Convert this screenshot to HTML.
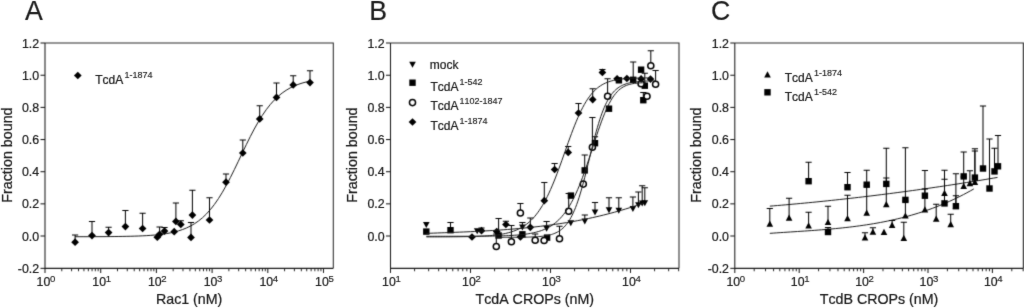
<!DOCTYPE html>
<html lang="en">
<head>
<meta charset="utf-8">
<title>Fraction bound binding curves</title>
<style>
html,body{margin:0;padding:0;background:#fff;}
body{width:1024px;height:308px;overflow:hidden;font-family:"Liberation Sans",sans-serif;}
svg{display:block;will-change:transform;filter:grayscale(1);}
svg text{font-family:"Liberation Sans",sans-serif;fill:#1c1c1c;stroke:#1c1c1c;stroke-width:0.24px;font-kerning:none;}
svg text tspan{stroke-width:0.16px;}
svg text.big{stroke-width:0.2px;}
</style>
</head>
<body>
<svg width="1024" height="308" viewBox="0 0 1024 308">
<defs><filter id="soft" x="0" y="0" width="100%" height="100%" filterUnits="userSpaceOnUse" color-interpolation-filters="sRGB"><feConvolveMatrix order="3" kernelMatrix="0.02 0.09 0.02 0.09 0.56 0.09 0.02 0.09 0.02" divisor="1" edgeMode="duplicate" preserveAlpha="false"/></filter><filter id="soft2" x="0" y="0" width="100%" height="100%" filterUnits="userSpaceOnUse" color-interpolation-filters="sRGB"><feConvolveMatrix order="3" kernelMatrix="0.01 0.06 0.01 0.06 0.72 0.06 0.01 0.06 0.01" divisor="1" edgeMode="duplicate" preserveAlpha="false"/></filter></defs>
<g filter="url(#soft)">
<rect width="1024" height="308" fill="#fff"/>
<g id="A">
<path d="M45 43H333.3V268.35" fill="none" stroke="#2a2a2a" stroke-width="1.05"/>
<path d="M45 43V268.35H333.3" fill="none" stroke="#1a1a1a" stroke-width="1.05"/>
<path d="M40.5 43H45" stroke="#1a1a1a" stroke-width="1.05"/>

<path d="M40.5 75.25H45" stroke="#1a1a1a" stroke-width="1.05"/>

<path d="M40.5 107.4H45" stroke="#1a1a1a" stroke-width="1.05"/>

<path d="M40.5 139.55H45" stroke="#1a1a1a" stroke-width="1.05"/>

<path d="M40.5 171.7H45" stroke="#1a1a1a" stroke-width="1.05"/>

<path d="M40.5 203.85H45" stroke="#1a1a1a" stroke-width="1.05"/>

<path d="M40.5 236H45" stroke="#1a1a1a" stroke-width="1.05"/>

<path d="M40.5 268.35H45" stroke="#1a1a1a" stroke-width="1.05"/>

<path d="M45 268.35V272.95" stroke="#1a1a1a" stroke-width="1.05"/>

<path d="M61.77 268.35V271.25" stroke="#1a1a1a" stroke-width="0.95"/>
<path d="M71.58 268.35V271.25" stroke="#1a1a1a" stroke-width="0.95"/>
<path d="M78.53 268.35V271.25" stroke="#1a1a1a" stroke-width="0.95"/>
<path d="M83.93 268.35V271.25" stroke="#1a1a1a" stroke-width="0.95"/>
<path d="M88.34 268.35V271.25" stroke="#1a1a1a" stroke-width="0.95"/>
<path d="M92.07 268.35V271.25" stroke="#1a1a1a" stroke-width="0.95"/>
<path d="M95.3 268.35V271.25" stroke="#1a1a1a" stroke-width="0.95"/>
<path d="M98.15 268.35V271.25" stroke="#1a1a1a" stroke-width="0.95"/>
<path d="M100.7 268.35V272.95" stroke="#1a1a1a" stroke-width="1.05"/>

<path d="M117.47 268.35V271.25" stroke="#1a1a1a" stroke-width="0.95"/>
<path d="M127.28 268.35V271.25" stroke="#1a1a1a" stroke-width="0.95"/>
<path d="M134.23 268.35V271.25" stroke="#1a1a1a" stroke-width="0.95"/>
<path d="M139.63 268.35V271.25" stroke="#1a1a1a" stroke-width="0.95"/>
<path d="M144.04 268.35V271.25" stroke="#1a1a1a" stroke-width="0.95"/>
<path d="M147.77 268.35V271.25" stroke="#1a1a1a" stroke-width="0.95"/>
<path d="M151 268.35V271.25" stroke="#1a1a1a" stroke-width="0.95"/>
<path d="M153.85 268.35V271.25" stroke="#1a1a1a" stroke-width="0.95"/>
<path d="M156.4 268.35V272.95" stroke="#1a1a1a" stroke-width="1.05"/>

<path d="M173.17 268.35V271.25" stroke="#1a1a1a" stroke-width="0.95"/>
<path d="M182.98 268.35V271.25" stroke="#1a1a1a" stroke-width="0.95"/>
<path d="M189.93 268.35V271.25" stroke="#1a1a1a" stroke-width="0.95"/>
<path d="M195.33 268.35V271.25" stroke="#1a1a1a" stroke-width="0.95"/>
<path d="M199.74 268.35V271.25" stroke="#1a1a1a" stroke-width="0.95"/>
<path d="M203.47 268.35V271.25" stroke="#1a1a1a" stroke-width="0.95"/>
<path d="M206.7 268.35V271.25" stroke="#1a1a1a" stroke-width="0.95"/>
<path d="M209.55 268.35V271.25" stroke="#1a1a1a" stroke-width="0.95"/>
<path d="M212.1 268.35V272.95" stroke="#1a1a1a" stroke-width="1.05"/>

<path d="M228.87 268.35V271.25" stroke="#1a1a1a" stroke-width="0.95"/>
<path d="M238.68 268.35V271.25" stroke="#1a1a1a" stroke-width="0.95"/>
<path d="M245.63 268.35V271.25" stroke="#1a1a1a" stroke-width="0.95"/>
<path d="M251.03 268.35V271.25" stroke="#1a1a1a" stroke-width="0.95"/>
<path d="M255.44 268.35V271.25" stroke="#1a1a1a" stroke-width="0.95"/>
<path d="M259.17 268.35V271.25" stroke="#1a1a1a" stroke-width="0.95"/>
<path d="M262.4 268.35V271.25" stroke="#1a1a1a" stroke-width="0.95"/>
<path d="M265.25 268.35V271.25" stroke="#1a1a1a" stroke-width="0.95"/>
<path d="M267.8 268.35V272.95" stroke="#1a1a1a" stroke-width="1.05"/>

<path d="M284.57 268.35V271.25" stroke="#1a1a1a" stroke-width="0.95"/>
<path d="M294.38 268.35V271.25" stroke="#1a1a1a" stroke-width="0.95"/>
<path d="M301.33 268.35V271.25" stroke="#1a1a1a" stroke-width="0.95"/>
<path d="M306.73 268.35V271.25" stroke="#1a1a1a" stroke-width="0.95"/>
<path d="M311.14 268.35V271.25" stroke="#1a1a1a" stroke-width="0.95"/>
<path d="M314.87 268.35V271.25" stroke="#1a1a1a" stroke-width="0.95"/>
<path d="M318.1 268.35V271.25" stroke="#1a1a1a" stroke-width="0.95"/>
<path d="M320.95 268.35V271.25" stroke="#1a1a1a" stroke-width="0.95"/>
<path d="M323.5 268.35V272.95" stroke="#1a1a1a" stroke-width="1.05"/>




<path d="M75.1 236.72L79.08 236.71L83.06 236.7L87.04 236.69L91.03 236.68L95.01 236.67L98.99 236.65L102.97 236.63L106.95 236.6L110.93 236.57L114.91 236.53L118.89 236.48L122.88 236.42L126.86 236.34L130.84 236.25L134.82 236.14L138.8 236L142.78 235.82L146.76 235.61L150.75 235.35L154.73 235.02L158.71 234.63L162.69 234.14L166.67 233.55L170.65 232.82L174.63 231.93L178.62 230.84L182.6 229.53L186.58 227.93L190.56 226.01L194.54 223.71L198.52 220.96L202.5 217.72L206.48 213.9L210.47 209.48L214.45 204.4L218.43 198.64L222.41 192.22L226.39 185.17L230.37 177.59L234.35 169.58L238.34 161.3L242.32 152.93L246.3 144.64L250.28 136.62L254.26 129.02L258.24 121.95L262.22 115.5L266.21 109.72L270.19 104.62L274.17 100.16L278.15 96.33L282.13 93.06L286.11 90.3L290.09 87.98L294.07 86.05L298.06 84.44L302.04 83.12L306.02 82.02L310 81.13" fill="none" stroke="#1a1a1a" stroke-width="1.0" stroke-linejoin="round"/>
<g stroke="#000" stroke-width="1.02" fill="none">
<path d="M75.1 242.2V235M72 235H78.2"/>
<path d="M92 235.6V221.4M88.9 221.4H95.1"/>
<path d="M108.6 232.6V227.2M105.5 227.2H111.7"/>
<path d="M125.4 226.6V210.5M122.3 210.5H128.5"/>
<path d="M142.6 228.5V213.3M139.5 213.3H145.7"/>

<path d="M159.6 234.3V227M156.5 227H162.7"/>
<path d="M164.5 231.1V227.5M161.4 227.5H167.6"/>

<path d="M175.9 221.4V203M172.8 203H179"/>
<path d="M180.8 224.4V220.8M177.7 220.8H183.9"/>
<path d="M192.4 215.1V190.3M189.3 190.3H195.5"/>
<path d="M191 237.4V222.6M187.9 222.6H194.1"/>
<path d="M209.5 220V197.8M206.4 197.8H212.6"/>
<path d="M226 182.2V174M222.9 174H229.1"/>
<path d="M242.8 153V140M239.7 140H245.9"/>
<path d="M259.7 118.9V105.8M256.6 105.8H262.8"/>
<path d="M276.5 97.4V83M273.4 83H279.6"/>
<path d="M293.2 84.9V75.7M290.1 75.7H296.3"/>
<path d="M310 82.6V70.7M306.9 70.7H313.1"/>
</g><g fill="#000">
<path d="M75.1 238.35L78.95 242.2L75.1 246.05L71.25 242.2Z"/>
<path d="M92 231.75L95.85 235.6L92 239.45L88.15 235.6Z"/>
<path d="M108.6 228.75L112.45 232.6L108.6 236.45L104.75 232.6Z"/>
<path d="M125.4 222.75L129.25 226.6L125.4 230.45L121.55 226.6Z"/>
<path d="M142.6 224.65L146.45 228.5L142.6 232.35L138.75 228.5Z"/>
<path d="M157.3 233.35L161.15 237.2L157.3 241.05L153.45 237.2Z"/>
<path d="M159.6 230.45L163.45 234.3L159.6 238.15L155.75 234.3Z"/>
<path d="M164.5 227.25L168.35 231.1L164.5 234.95L160.65 231.1Z"/>
<path d="M174.2 227.85L178.05 231.7L174.2 235.55L170.35 231.7Z"/>
<path d="M175.9 217.55L179.75 221.4L175.9 225.25L172.05 221.4Z"/>
<path d="M180.8 220.55L184.65 224.4L180.8 228.25L176.95 224.4Z"/>
<path d="M192.4 211.25L196.25 215.1L192.4 218.95L188.55 215.1Z"/>
<path d="M191 233.55L194.85 237.4L191 241.25L187.15 237.4Z"/>
<path d="M209.5 216.15L213.35 220L209.5 223.85L205.65 220Z"/>
<path d="M226 178.35L229.85 182.2L226 186.05L222.15 182.2Z"/>
<path d="M242.8 149.15L246.65 153L242.8 156.85L238.95 153Z"/>
<path d="M259.7 115.05L263.55 118.9L259.7 122.75L255.85 118.9Z"/>
<path d="M276.5 93.55L280.35 97.4L276.5 101.25L272.65 97.4Z"/>
<path d="M293.2 81.05L297.05 84.9L293.2 88.75L289.35 84.9Z"/>
<path d="M310 78.75L313.85 82.6L310 86.45L306.15 82.6Z"/>
<path d="M77.8 71.65L81.65 75.5L77.8 79.35L73.95 75.5Z"/>
</g>

</g>
<g id="B">
<path d="M390.5 43H679V268.35" fill="none" stroke="#2a2a2a" stroke-width="1.05"/>
<path d="M390.5 43V268.35H679" fill="none" stroke="#1a1a1a" stroke-width="1.05"/>
<path d="M386 43H390.5" stroke="#1a1a1a" stroke-width="1.05"/>

<path d="M386 75.25H390.5" stroke="#1a1a1a" stroke-width="1.05"/>

<path d="M386 107.4H390.5" stroke="#1a1a1a" stroke-width="1.05"/>

<path d="M386 139.55H390.5" stroke="#1a1a1a" stroke-width="1.05"/>

<path d="M386 171.7H390.5" stroke="#1a1a1a" stroke-width="1.05"/>

<path d="M386 203.85H390.5" stroke="#1a1a1a" stroke-width="1.05"/>

<path d="M386 236H390.5" stroke="#1a1a1a" stroke-width="1.05"/>

<path d="M390.5 268.35V272.95" stroke="#1a1a1a" stroke-width="1.05"/>

<path d="M414.58 268.35V271.25" stroke="#1a1a1a" stroke-width="0.95"/>
<path d="M428.67 268.35V271.25" stroke="#1a1a1a" stroke-width="0.95"/>
<path d="M438.66 268.35V271.25" stroke="#1a1a1a" stroke-width="0.95"/>
<path d="M446.42 268.35V271.25" stroke="#1a1a1a" stroke-width="0.95"/>
<path d="M452.75 268.35V271.25" stroke="#1a1a1a" stroke-width="0.95"/>
<path d="M458.11 268.35V271.25" stroke="#1a1a1a" stroke-width="0.95"/>
<path d="M462.75 268.35V271.25" stroke="#1a1a1a" stroke-width="0.95"/>
<path d="M466.84 268.35V271.25" stroke="#1a1a1a" stroke-width="0.95"/>
<path d="M470.5 268.35V272.95" stroke="#1a1a1a" stroke-width="1.05"/>

<path d="M494.58 268.35V271.25" stroke="#1a1a1a" stroke-width="0.95"/>
<path d="M508.67 268.35V271.25" stroke="#1a1a1a" stroke-width="0.95"/>
<path d="M518.66 268.35V271.25" stroke="#1a1a1a" stroke-width="0.95"/>
<path d="M526.42 268.35V271.25" stroke="#1a1a1a" stroke-width="0.95"/>
<path d="M532.75 268.35V271.25" stroke="#1a1a1a" stroke-width="0.95"/>
<path d="M538.11 268.35V271.25" stroke="#1a1a1a" stroke-width="0.95"/>
<path d="M542.75 268.35V271.25" stroke="#1a1a1a" stroke-width="0.95"/>
<path d="M546.84 268.35V271.25" stroke="#1a1a1a" stroke-width="0.95"/>
<path d="M550.5 268.35V272.95" stroke="#1a1a1a" stroke-width="1.05"/>

<path d="M574.58 268.35V271.25" stroke="#1a1a1a" stroke-width="0.95"/>
<path d="M588.67 268.35V271.25" stroke="#1a1a1a" stroke-width="0.95"/>
<path d="M598.66 268.35V271.25" stroke="#1a1a1a" stroke-width="0.95"/>
<path d="M606.42 268.35V271.25" stroke="#1a1a1a" stroke-width="0.95"/>
<path d="M612.75 268.35V271.25" stroke="#1a1a1a" stroke-width="0.95"/>
<path d="M618.11 268.35V271.25" stroke="#1a1a1a" stroke-width="0.95"/>
<path d="M622.75 268.35V271.25" stroke="#1a1a1a" stroke-width="0.95"/>
<path d="M626.84 268.35V271.25" stroke="#1a1a1a" stroke-width="0.95"/>
<path d="M630.5 268.35V272.95" stroke="#1a1a1a" stroke-width="1.05"/>

<path d="M654.58 268.35V271.25" stroke="#1a1a1a" stroke-width="0.95"/>
<path d="M668.67 268.35V271.25" stroke="#1a1a1a" stroke-width="0.95"/>
<path d="M678.66 268.35V271.25" stroke="#1a1a1a" stroke-width="0.95"/>



<g stroke="#000" stroke-width="1.02" fill="none">


<path d="M522.4 227.6V222.6M519.3 222.6H525.5"/>
<path d="M546.6 228.7V221.4M543.5 221.4H549.7"/>

<path d="M584.8 221.6V215M581.7 215H587.9"/>
<path d="M595 212.4V202.6M591.9 202.6H598.1"/>
<path d="M609 210.2V197.8M605.9 197.8H612.1"/>
<path d="M618.8 210.8V197.8M615.7 197.8H621.9"/>
<path d="M632.9 208.9V197M629.8 197H636"/>
<path d="M638.4 205.2V191.9M635.3 191.9H641.5"/>
<path d="M642.2 203.6V185.8M639.1 185.8H645.3"/>
<path d="M644.8 203.2V187.8M641.7 187.8H647.9"/>

<path d="M450.5 230.2V222.5M447.4 222.5H453.6"/>
<path d="M498.6 235.5V218.4M495.5 218.4H501.7"/>



<path d="M584.7 170.4V155M581.6 155H587.8"/>
<path d="M595 143.2V136.7M591.9 136.7H598.1"/>


<path d="M633.2 79.8V62M630.1 62H636.3"/>

<path d="M644.8 85.7V73.2M641.7 73.2H647.9"/>
<path d="M643.3 100.2V92.4M640.2 92.4H646.4"/>
<path d="M496.3 246.5V234M493.2 234H499.4"/>
<path d="M511.4 241.8V225.5M508.3 225.5H514.5"/>
<path d="M520.4 213V203.5M517.3 203.5H523.5"/>
<path d="M535.2 240.3V234M532.1 234H538.3"/>

<path d="M559.5 238.7V226.3M556.4 226.3H562.6"/>
<path d="M568.7 211.3V193.5M565.6 193.5H571.8"/>

<path d="M592.4 147.3V117.6M589.3 117.6H595.5"/>
<path d="M607.6 96.2V78.8M604.5 78.8H610.7"/>

<path d="M650.8 65.7V50.8M647.7 50.8H653.9"/>
<path d="M655.6 84.3V70.6M652.5 70.6H658.7"/>


<path d="M481.5 230.7V228M478.4 228H484.6"/>

<path d="M505.9 224.5V221.3M502.8 221.3H509"/>

<path d="M530.3 227.3V218M527.2 218H533.4"/>
<path d="M544.3 200.7V182.5M541.2 182.5H547.4"/>
<path d="M554.6 169.5V163.6M551.5 163.6H557.7"/>
<path d="M568.2 152.4V146.6M565.1 146.6H571.3"/>
<path d="M578.5 113V103.6M575.4 103.6H581.6"/>
<path d="M592.7 99.6V88.7M589.6 88.7H595.8"/>
<path d="M602.4 72.4V69.6M599.3 69.6H605.5"/>




</g><g fill="#000">
<path d="M423 222L429.6 222L426.3 228Z"/>
<path d="M473.9 228.3L480.5 228.3L477.2 234.3Z"/>
<path d="M519.1 224.6L525.7 224.6L522.4 230.6Z"/>
<path d="M543.3 225.7L549.9 225.7L546.6 231.7Z"/>
<path d="M567.5 220.3L574.1 220.3L570.8 226.3Z"/>
<path d="M581.5 218.6L588.1 218.6L584.8 224.6Z"/>
<path d="M591.7 209.4L598.3 209.4L595 215.4Z"/>
<path d="M605.7 207.2L612.3 207.2L609 213.2Z"/>
<path d="M615.5 207.8L622.1 207.8L618.8 213.8Z"/>
<path d="M629.6 205.9L636.2 205.9L632.9 211.9Z"/>
<path d="M635.1 202.2L641.7 202.2L638.4 208.2Z"/>
<path d="M638.9 200.6L645.5 200.6L642.2 206.6Z"/>
<path d="M641.5 200.2L648.1 200.2L644.8 206.2Z"/>
<rect x="423.1" y="228.4" width="6.4" height="6.4"/>
<rect x="447.3" y="227" width="6.4" height="6.4"/>
<rect x="495.4" y="232.3" width="6.4" height="6.4"/>
<rect x="519.2" y="231.1" width="6.4" height="6.4"/>
<rect x="543.9" y="234.4" width="6.4" height="6.4"/>
<rect x="567.7" y="192.4" width="6.4" height="6.4"/>
<rect x="581.5" y="167.2" width="6.4" height="6.4"/>
<rect x="591.8" y="140" width="6.4" height="6.4"/>
<rect x="605.8" y="105.5" width="6.4" height="6.4"/>
<rect x="615.7" y="77.1" width="6.4" height="6.4"/>
<rect x="630" y="76.6" width="6.4" height="6.4"/>
<rect x="637.9" y="66.5" width="6.4" height="6.4"/>
<rect x="641.6" y="82.5" width="6.4" height="6.4"/>
<rect x="640.1" y="97" width="6.4" height="6.4"/>
<circle cx="496.3" cy="246.5" r="3.05" fill="#fff" stroke="#000" stroke-width="1.5"/>
<circle cx="511.4" cy="241.8" r="3.05" fill="#fff" stroke="#000" stroke-width="1.5"/>
<circle cx="520.4" cy="213" r="3.05" fill="#fff" stroke="#000" stroke-width="1.5"/>
<circle cx="535.2" cy="240.3" r="3.05" fill="#fff" stroke="#000" stroke-width="1.5"/>
<circle cx="544.1" cy="240.5" r="3.05" fill="#fff" stroke="#000" stroke-width="1.5"/>
<circle cx="559.5" cy="238.7" r="3.05" fill="#fff" stroke="#000" stroke-width="1.5"/>
<circle cx="568.7" cy="211.3" r="3.05" fill="#fff" stroke="#000" stroke-width="1.5"/>
<circle cx="583.3" cy="184.1" r="3.05" fill="#fff" stroke="#000" stroke-width="1.5"/>
<circle cx="592.4" cy="147.3" r="3.05" fill="#fff" stroke="#000" stroke-width="1.5"/>
<circle cx="607.6" cy="96.2" r="3.05" fill="#fff" stroke="#000" stroke-width="1.5"/>
<circle cx="641.1" cy="83.8" r="3.05" fill="#fff" stroke="#000" stroke-width="1.5"/>
<circle cx="650.8" cy="65.7" r="3.05" fill="#fff" stroke="#000" stroke-width="1.5"/>
<circle cx="655.6" cy="84.3" r="3.05" fill="#fff" stroke="#000" stroke-width="1.5"/>
<circle cx="647" cy="96.2" r="3.05" fill="#fff" stroke="#000" stroke-width="1.5"/>
<path d="M472 233.15L475.85 237L472 240.85L468.15 237Z"/>
<path d="M481.5 226.85L485.35 230.7L481.5 234.55L477.65 230.7Z"/>
<path d="M496.7 227.75L500.55 231.6L496.7 235.45L492.85 231.6Z"/>
<path d="M505.9 220.65L509.75 224.5L505.9 228.35L502.05 224.5Z"/>
<path d="M520.4 233.15L524.25 237L520.4 240.85L516.55 237Z"/>
<path d="M530.3 223.45L534.15 227.3L530.3 231.15L526.45 227.3Z"/>
<path d="M544.3 196.85L548.15 200.7L544.3 204.55L540.45 200.7Z"/>
<path d="M554.6 165.65L558.45 169.5L554.6 173.35L550.75 169.5Z"/>
<path d="M568.2 148.55L572.05 152.4L568.2 156.25L564.35 152.4Z"/>
<path d="M578.5 109.15L582.35 113L578.5 116.85L574.65 113Z"/>
<path d="M592.7 95.75L596.55 99.6L592.7 103.45L588.85 99.6Z"/>
<path d="M602.4 68.55L606.25 72.4L602.4 76.25L598.55 72.4Z"/>
<path d="M617.1 74.95L620.95 78.8L617.1 82.65L613.25 78.8Z"/>
<path d="M626.9 74.65L630.75 78.5L626.9 82.35L623.05 78.5Z"/>
<path d="M641.1 75.05L644.95 78.9L641.1 82.75L637.25 78.9Z"/>
<path d="M650.5 75.25L654.35 79.1L650.5 82.95L646.65 79.1Z"/>
</g>
<path d="M426.4 233.37L430.09 233.24L433.78 233.11L437.46 232.98L441.15 232.84L444.84 232.71L448.53 232.57L452.22 232.43L455.91 232.29L459.59 232.14L463.28 231.99L466.97 231.83L470.66 231.66L474.35 231.49L478.03 231.31L481.72 231.12L485.41 230.91L489.1 230.7L492.79 230.48L496.47 230.25L500.16 230L503.85 229.74L507.54 229.47L511.23 229.18L514.92 228.88L518.6 228.56L522.29 228.22L525.98 227.86L529.67 227.49L533.36 227.1L537.04 226.69L540.73 226.26L544.42 225.8L548.11 225.33L551.8 224.83L555.48 224.31L559.17 223.76L562.86 223.19L566.55 222.6L570.24 221.97L573.93 221.33L577.61 220.65L581.3 219.94L584.99 219.21L588.68 218.44L592.37 217.65L596.05 216.82L599.74 215.97L603.43 215.07L607.12 214.15L610.81 213.19L614.49 212.2L618.18 211.17L621.87 210.1L625.56 209L629.25 207.86L632.94 206.68L636.62 205.46L640.31 204.2L644 202.9" fill="none" stroke="#1a1a1a" stroke-width="1.0" stroke-linejoin="round"/>
<path d="M426.4 236.89L428.01 236.89L429.62 236.88L431.24 236.88L432.85 236.88L434.46 236.87L436.07 236.87L437.69 236.87L439.3 236.86L440.91 236.85L442.52 236.85L444.13 236.84L445.75 236.83L447.36 236.83L448.97 236.82L450.58 236.81L452.2 236.8L453.81 236.78L455.42 236.77L457.03 236.75L458.64 236.74L460.26 236.72L461.87 236.7L463.48 236.67L465.09 236.65L466.71 236.62L468.32 236.59L469.93 236.55L471.54 236.51L473.15 236.47L474.77 236.42L476.38 236.37L477.99 236.31L479.6 236.24L481.22 236.17L482.83 236.09L484.44 236L486.05 235.9L487.66 235.79L489.28 235.67L490.89 235.54L492.5 235.39L494.11 235.23L495.73 235.05L497.34 234.84L498.95 234.62L500.56 234.38L502.17 234.1L503.79 233.8L505.4 233.47L507.01 233.1L508.62 232.7L510.24 232.25L511.85 231.75L513.46 231.21L515.07 230.61L516.68 229.95L518.3 229.22L519.91 228.42L521.52 227.54L523.13 226.57L524.75 225.51L526.36 224.36L527.97 223.09L529.58 221.7L531.19 220.19L532.81 218.55L534.42 216.77L536.03 214.83L537.64 212.73L539.26 210.47L540.87 208.04L542.48 205.43L544.09 202.63L545.71 199.65L547.32 196.49L548.93 193.13L550.54 189.59L552.15 185.88L553.77 181.99L555.38 177.96L556.99 173.78L558.6 169.47L560.22 165.07L561.83 160.58L563.44 156.05L565.05 151.49L566.66 146.93L568.28 142.41L569.89 137.94L571.5 133.57L573.11 129.31L574.73 125.2L576.34 121.24L577.95 117.46L579.56 113.88L581.17 110.5L582.79 107.34L584.4 104.39L586.01 101.66L587.62 99.14L589.24 96.83L590.85 94.72L592.46 92.81L594.07 91.07L595.68 89.52L597.3 88.12L598.91 86.87L600.52 85.75L602.13 84.76L603.75 83.89L605.36 83.11L606.97 82.43L608.58 81.83L610.19 81.3L611.81 80.84L613.42 80.44L615.03 80.08L616.64 79.78L618.26 79.51L619.87 79.28L621.48 79.07L623.09 78.9L624.7 78.75L626.32 78.62L627.93 78.5L629.54 78.4L631.15 78.32L632.77 78.24L634.38 78.18L635.99 78.13L637.6 78.08L639.21 78.04L640.83 78L642.44 77.97L644.05 77.95L645.66 77.92L647.28 77.9L648.89 77.89L650.5 77.87" fill="none" stroke="#1a1a1a" stroke-width="1.0" stroke-linejoin="round"/>
<path d="M426.4 236.3L427.98 236.3L429.55 236.3L431.13 236.3L432.71 236.3L434.28 236.29L435.86 236.29L437.43 236.29L439.01 236.29L440.59 236.29L442.16 236.29L443.74 236.29L445.32 236.29L446.89 236.29L448.47 236.29L450.04 236.28L451.62 236.28L453.2 236.28L454.77 236.28L456.35 236.28L457.93 236.27L459.5 236.27L461.08 236.27L462.65 236.26L464.23 236.26L465.81 236.25L467.38 236.25L468.96 236.24L470.54 236.24L472.11 236.23L473.69 236.22L475.26 236.21L476.84 236.2L478.42 236.19L479.99 236.18L481.57 236.17L483.15 236.16L484.72 236.14L486.3 236.13L487.87 236.11L489.45 236.09L491.03 236.06L492.6 236.04L494.18 236.01L495.76 235.98L497.33 235.95L498.91 235.91L500.48 235.87L502.06 235.82L503.64 235.77L505.21 235.72L506.79 235.65L508.37 235.59L509.94 235.51L511.52 235.43L513.09 235.33L514.67 235.23L516.25 235.12L517.82 235L519.4 234.86L520.98 234.71L522.55 234.54L524.13 234.36L525.7 234.15L527.28 233.93L528.86 233.68L530.43 233.41L532.01 233.11L533.59 232.78L535.16 232.41L536.74 232.01L538.31 231.56L539.89 231.08L541.47 230.54L543.04 229.95L544.62 229.3L546.2 228.58L547.77 227.8L549.35 226.94L550.92 225.99L552.5 224.96L554.08 223.83L555.65 222.59L557.23 221.24L558.81 219.77L560.38 218.17L561.96 216.42L563.53 214.53L565.11 212.48L566.69 210.26L568.26 207.87L569.84 205.3L571.42 202.53L572.99 199.57L574.57 196.41L576.14 193.05L577.72 189.49L579.3 185.72L580.87 181.77L582.45 177.63L584.03 173.33L585.6 168.86L587.18 164.27L588.75 159.56L590.33 154.77L591.91 149.93L593.48 145.08L595.06 140.24L596.64 135.46L598.21 130.78L599.79 126.23L601.36 121.85L602.94 117.67L604.52 113.71L606.09 110L607.67 106.56L609.25 103.4L610.82 100.53L612.4 97.94L613.97 95.62L615.55 93.58L617.13 91.79L618.7 90.24L620.28 88.9L621.86 87.77L623.43 86.81L625.01 86L626.58 85.33L628.16 84.78L629.74 84.33L631.31 83.96L632.89 83.66L634.47 83.42L636.04 83.23L637.62 83.08L639.19 82.96L640.77 82.86L642.35 82.79L643.92 82.73L645.5 82.69" fill="none" stroke="#1a1a1a" stroke-width="1.0" stroke-linejoin="round"/>
<path d="M496.3 237.35L497.45 237.34L498.6 237.34L499.75 237.34L500.9 237.34L502.04 237.34L503.19 237.34L504.34 237.33L505.49 237.33L506.64 237.33L507.79 237.32L508.94 237.32L510.09 237.32L511.24 237.31L512.38 237.31L513.53 237.3L514.68 237.29L515.83 237.29L516.98 237.28L518.13 237.27L519.28 237.26L520.43 237.24L521.58 237.23L522.73 237.21L523.87 237.19L525.02 237.17L526.17 237.15L527.32 237.13L528.47 237.1L529.62 237.06L530.77 237.03L531.92 236.98L533.07 236.94L534.21 236.88L535.36 236.82L536.51 236.75L537.66 236.68L538.81 236.59L539.96 236.49L541.11 236.38L542.26 236.26L543.41 236.12L544.55 235.96L545.7 235.78L546.85 235.58L548 235.36L549.15 235.1L550.3 234.82L551.45 234.5L552.6 234.14L553.75 233.73L554.89 233.28L556.04 232.77L557.19 232.2L558.34 231.56L559.49 230.85L560.64 230.05L561.79 229.16L562.94 228.16L564.09 227.06L565.24 225.83L566.38 224.47L567.53 222.96L568.68 221.3L569.83 219.47L570.98 217.46L572.13 215.26L573.28 212.86L574.43 210.26L575.58 207.44L576.72 204.4L577.87 201.14L579.02 197.66L580.17 193.96L581.32 190.06L582.47 185.97L583.62 181.71L584.77 177.29L585.92 172.75L587.06 168.11L588.21 163.41L589.36 158.67L590.51 153.93L591.66 149.24L592.81 144.61L593.96 140.08L595.11 135.69L596.26 131.45L597.41 127.38L598.55 123.51L599.7 119.85L600.85 116.4L602 113.17L603.15 110.16L604.3 107.37L605.45 104.79L606.6 102.42L607.75 100.25L608.89 98.27L610.04 96.46L611.19 94.82L612.34 93.34L613.49 92L614.64 90.79L615.79 89.7L616.94 88.72L618.09 87.84L619.23 87.06L620.38 86.35L621.53 85.73L622.68 85.16L623.83 84.66L624.98 84.22L626.13 83.82L627.28 83.46L628.43 83.15L629.57 82.87L630.72 82.62L631.87 82.4L633.02 82.2L634.17 82.03L635.32 81.87L636.47 81.73L637.62 81.61L638.77 81.5L639.92 81.41L641.06 81.32L642.21 81.25L643.36 81.18L644.51 81.12L645.66 81.07L646.81 81.02L647.96 80.98L649.11 80.94L650.26 80.91L651.4 80.88L652.55 80.85L653.7 80.83L654.85 80.81L656 80.79" fill="none" stroke="#1a1a1a" stroke-width="1.0" stroke-linejoin="round"/>
<g fill="#000">
<path d="M409.2 61.7L415.8 61.7L412.5 67.7Z"/>
<rect x="409.3" y="79.5" width="6.4" height="6.4"/>
<circle cx="412.5" cy="102.6" r="3.05" fill="#fff" stroke="#000" stroke-width="1.5"/>
<path d="M412.5 118.15L416.35 122L412.5 125.85L408.65 122Z"/>
</g>




</g>
<g id="C">
<path d="M734.8 43H1023.3V268.35" fill="none" stroke="#2a2a2a" stroke-width="1.05"/>
<path d="M734.8 43V268.35H1023.3" fill="none" stroke="#1a1a1a" stroke-width="1.05"/>
<path d="M730.3 43H734.8" stroke="#1a1a1a" stroke-width="1.05"/>

<path d="M730.3 75.25H734.8" stroke="#1a1a1a" stroke-width="1.05"/>

<path d="M730.3 107.4H734.8" stroke="#1a1a1a" stroke-width="1.05"/>

<path d="M730.3 139.55H734.8" stroke="#1a1a1a" stroke-width="1.05"/>

<path d="M730.3 171.7H734.8" stroke="#1a1a1a" stroke-width="1.05"/>

<path d="M730.3 203.85H734.8" stroke="#1a1a1a" stroke-width="1.05"/>

<path d="M730.3 236H734.8" stroke="#1a1a1a" stroke-width="1.05"/>

<path d="M730.3 268.35H734.8" stroke="#1a1a1a" stroke-width="1.05"/>

<path d="M734.8 268.35V272.95" stroke="#1a1a1a" stroke-width="1.05"/>

<path d="M754.19 268.35V271.25" stroke="#1a1a1a" stroke-width="0.95"/>
<path d="M765.53 268.35V271.25" stroke="#1a1a1a" stroke-width="0.95"/>
<path d="M773.57 268.35V271.25" stroke="#1a1a1a" stroke-width="0.95"/>
<path d="M779.81 268.35V271.25" stroke="#1a1a1a" stroke-width="0.95"/>
<path d="M784.91 268.35V271.25" stroke="#1a1a1a" stroke-width="0.95"/>
<path d="M789.22 268.35V271.25" stroke="#1a1a1a" stroke-width="0.95"/>
<path d="M792.96 268.35V271.25" stroke="#1a1a1a" stroke-width="0.95"/>
<path d="M796.25 268.35V271.25" stroke="#1a1a1a" stroke-width="0.95"/>
<path d="M799.2 268.35V272.95" stroke="#1a1a1a" stroke-width="1.05"/>

<path d="M818.59 268.35V271.25" stroke="#1a1a1a" stroke-width="0.95"/>
<path d="M829.93 268.35V271.25" stroke="#1a1a1a" stroke-width="0.95"/>
<path d="M837.97 268.35V271.25" stroke="#1a1a1a" stroke-width="0.95"/>
<path d="M844.21 268.35V271.25" stroke="#1a1a1a" stroke-width="0.95"/>
<path d="M849.31 268.35V271.25" stroke="#1a1a1a" stroke-width="0.95"/>
<path d="M853.62 268.35V271.25" stroke="#1a1a1a" stroke-width="0.95"/>
<path d="M857.36 268.35V271.25" stroke="#1a1a1a" stroke-width="0.95"/>
<path d="M860.65 268.35V271.25" stroke="#1a1a1a" stroke-width="0.95"/>
<path d="M863.6 268.35V272.95" stroke="#1a1a1a" stroke-width="1.05"/>

<path d="M882.99 268.35V271.25" stroke="#1a1a1a" stroke-width="0.95"/>
<path d="M894.33 268.35V271.25" stroke="#1a1a1a" stroke-width="0.95"/>
<path d="M902.37 268.35V271.25" stroke="#1a1a1a" stroke-width="0.95"/>
<path d="M908.61 268.35V271.25" stroke="#1a1a1a" stroke-width="0.95"/>
<path d="M913.71 268.35V271.25" stroke="#1a1a1a" stroke-width="0.95"/>
<path d="M918.02 268.35V271.25" stroke="#1a1a1a" stroke-width="0.95"/>
<path d="M921.76 268.35V271.25" stroke="#1a1a1a" stroke-width="0.95"/>
<path d="M925.05 268.35V271.25" stroke="#1a1a1a" stroke-width="0.95"/>
<path d="M928 268.35V272.95" stroke="#1a1a1a" stroke-width="1.05"/>

<path d="M947.39 268.35V271.25" stroke="#1a1a1a" stroke-width="0.95"/>
<path d="M958.73 268.35V271.25" stroke="#1a1a1a" stroke-width="0.95"/>
<path d="M966.77 268.35V271.25" stroke="#1a1a1a" stroke-width="0.95"/>
<path d="M973.01 268.35V271.25" stroke="#1a1a1a" stroke-width="0.95"/>
<path d="M978.11 268.35V271.25" stroke="#1a1a1a" stroke-width="0.95"/>
<path d="M982.42 268.35V271.25" stroke="#1a1a1a" stroke-width="0.95"/>
<path d="M986.16 268.35V271.25" stroke="#1a1a1a" stroke-width="0.95"/>
<path d="M989.45 268.35V271.25" stroke="#1a1a1a" stroke-width="0.95"/>
<path d="M992.4 268.35V272.95" stroke="#1a1a1a" stroke-width="1.05"/>

<path d="M1011.79 268.35V271.25" stroke="#1a1a1a" stroke-width="0.95"/>
<path d="M1023.13 268.35V271.25" stroke="#1a1a1a" stroke-width="0.95"/>



<path d="M769.8 206.16L773.66 205.84L777.52 205.52L781.38 205.19L785.24 204.86L789.1 204.52L792.96 204.17L796.82 203.82L800.67 203.46L804.53 203.1L808.39 202.73L812.25 202.36L816.11 201.98L819.97 201.59L823.83 201.2L827.69 200.8L831.55 200.39L835.41 199.98L839.27 199.56L843.13 199.14L846.99 198.71L850.85 198.28L854.71 197.84L858.56 197.39L862.42 196.94L866.28 196.48L870.14 196.02L874 195.55L877.86 195.07L881.72 194.59L885.58 194.1L889.44 193.61L893.3 193.11L897.16 192.6L901.02 192.09L904.88 191.58L908.74 191.05L912.59 190.53L916.45 189.99L920.31 189.45L924.17 188.9L928.03 188.35L931.89 187.79L935.75 187.23L939.61 186.66L943.47 186.09L947.33 185.51L951.19 184.92L955.05 184.33L958.91 183.73L962.77 183.12L966.63 182.51L970.48 181.9L974.34 181.28L978.2 180.65L982.06 180.02L985.92 179.38L989.78 178.73L993.64 178.08L997.5 177.42" fill="none" stroke="#1a1a1a" stroke-width="1.0" stroke-linejoin="round"/>
<path d="M769.8 233.35L773.26 233.11L776.72 232.87L780.17 232.64L783.63 232.41L787.09 232.19L790.55 231.96L794 231.74L797.46 231.51L800.92 231.29L804.38 231.06L807.83 230.82L811.29 230.58L814.75 230.33L818.21 230.07L821.66 229.8L825.12 229.52L828.58 229.22L832.04 228.92L835.49 228.59L838.95 228.26L842.41 227.9L845.87 227.52L849.33 227.13L852.78 226.71L856.24 226.27L859.7 225.81L863.16 225.32L866.61 224.81L870.07 224.27L873.53 223.7L876.99 223.1L880.44 222.46L883.9 221.8L887.36 221.1L890.82 220.36L894.27 219.59L897.73 218.79L901.19 217.94L904.65 217.05L908.11 216.12L911.56 215.15L915.02 214.14L918.48 213.08L921.94 211.97L925.39 210.81L928.85 209.61L932.31 208.36L935.77 207.05L939.22 205.69L942.68 204.28L946.14 202.81L949.6 201.29L953.05 199.71L956.51 198.07L959.97 196.37L963.43 194.61L966.88 192.78L970.34 190.89L973.8 188.94" fill="none" stroke="#1a1a1a" stroke-width="1.0" stroke-linejoin="round"/>
<g stroke="#000" stroke-width="1.02" fill="none">
<path d="M808.6 181.2V162.2M805.5 162.2H811.7"/>
<path d="M828 232V227.6M824.9 227.6H831.1"/>
<path d="M847.5 187.2V172.5M844.4 172.5H850.6"/>
<path d="M866.7 184.7V170.2M863.6 170.2H869.8"/>
<path d="M886.3 183.9V148.3M883.2 148.3H889.4"/>
<path d="M905.4 199.9V147.7M902.3 147.7H908.5"/>
<path d="M924.9 195.7V170.6M921.8 170.6H928"/>
<path d="M944.5 203.4V170.3M941.4 170.3H947.6"/>
<path d="M955.9 206.2V173.8M952.8 173.8H959"/>
<path d="M963.7 176.4V151.9M960.6 151.9H966.8"/>
<path d="M974.9 177.6V148.8M971.8 148.8H978"/>
<path d="M983 168.5V106.1M979.9 106.1H986.1"/>
<path d="M989.5 188.5V139M986.4 139H992.6"/>
<path d="M994.5 171.4V148.3M991.4 148.3H997.6"/>
<path d="M998 166.3V135.5M994.9 135.5H1001.1"/>
<path d="M769.8 223.7V208.4M766.7 208.4H772.9"/>
<path d="M789.1 217.7V198.3M786 198.3H792.2"/>
<path d="M808.6 225.3V212.3M805.5 212.3H811.7"/>
<path d="M828 222V206.3M824.9 206.3H831.1"/>
<path d="M847.5 218.1V195.3M844.4 195.3H850.6"/>
<path d="M866.7 212.6V186M863.6 186H869.8"/>
<path d="M886.3 204.1V178M883.2 178H889.4"/>
<path d="M905.4 215.5V201M902.3 201H908.5"/>
<path d="M924.9 209.3V189M921.8 189H928"/>
<path d="M944.5 192.9V179.2M941.4 179.2H947.6"/>
<path d="M963.7 185.9V177M960.6 177H966.8"/>
<path d="M969.9 183.2V170.7M966.8 170.7H973"/>
<path d="M974.9 182V151.1M971.8 151.1H978"/>
<path d="M936.2 218.7V204.2M933.1 204.2H939.3"/>
<path d="M950.7 224.1V214.3M947.6 214.3H953.8"/>
<path d="M955.9 205.6V195.7M952.8 195.7H959"/>
<path d="M892.1 224.9V220.5M889 220.5H895.2"/>
<path d="M903.8 237.9V222.3M900.7 222.3H906.9"/>
<path d="M872.9 231.6V227.7M869.8 227.7H876"/>

<path d="M865 237.4V232.7M861.9 232.7H868.1"/>
</g><g fill="#000">
<path d="M766.5 226.8L773.1 226.8L769.8 220.6Z"/>
<path d="M785.8 220.8L792.4 220.8L789.1 214.6Z"/>
<path d="M805.3 228.4L811.9 228.4L808.6 222.2Z"/>
<path d="M824.7 225.1L831.3 225.1L828 218.9Z"/>
<path d="M844.2 221.2L850.8 221.2L847.5 215Z"/>
<path d="M863.4 215.7L870 215.7L866.7 209.5Z"/>
<path d="M883 207.2L889.6 207.2L886.3 201Z"/>
<path d="M902.1 218.6L908.7 218.6L905.4 212.4Z"/>
<path d="M921.6 212.4L928.2 212.4L924.9 206.2Z"/>
<path d="M941.2 196L947.8 196L944.5 189.8Z"/>
<path d="M960.4 189L967 189L963.7 182.8Z"/>
<path d="M966.6 186.3L973.2 186.3L969.9 180.1Z"/>
<path d="M971.6 185.1L978.2 185.1L974.9 178.9Z"/>
<path d="M932.9 221.8L939.5 221.8L936.2 215.6Z"/>
<path d="M947.4 227.2L954 227.2L950.7 221Z"/>
<path d="M952.6 208.7L959.2 208.7L955.9 202.5Z"/>
<path d="M888.8 228L895.4 228L892.1 221.8Z"/>
<path d="M900.5 241L907.1 241L903.8 234.8Z"/>
<path d="M869.6 234.7L876.2 234.7L872.9 228.5Z"/>
<path d="M880.7 235L887.3 235L884 228.8Z"/>
<path d="M861.7 240.5L868.3 240.5L865 234.3Z"/>
<rect x="805.4" y="178" width="6.4" height="6.4"/>
<rect x="824.8" y="228.8" width="6.4" height="6.4"/>
<rect x="844.3" y="184" width="6.4" height="6.4"/>
<rect x="863.5" y="181.5" width="6.4" height="6.4"/>
<rect x="883.1" y="180.7" width="6.4" height="6.4"/>
<rect x="902.2" y="196.7" width="6.4" height="6.4"/>
<rect x="921.7" y="192.5" width="6.4" height="6.4"/>
<rect x="941.3" y="200.2" width="6.4" height="6.4"/>
<rect x="952.7" y="203" width="6.4" height="6.4"/>
<rect x="960.5" y="173.2" width="6.4" height="6.4"/>
<rect x="971.7" y="174.4" width="6.4" height="6.4"/>
<rect x="979.8" y="165.3" width="6.4" height="6.4"/>
<rect x="986.3" y="185.3" width="6.4" height="6.4"/>
<rect x="991.3" y="168.2" width="6.4" height="6.4"/>
<rect x="994.8" y="163.1" width="6.4" height="6.4"/>
<path d="M764.2 77.5L770.8 77.5L767.5 71.3Z"/>
<rect x="764.3" y="89.1" width="6.4" height="6.4"/>
</g>


</g>
</g>
<g filter="url(#soft2)">
<text transform="translate(39.2 47.5) scale(1 1.025)" font-size="12.4" text-anchor="end">1.2</text>
<text transform="translate(39.2 79.75) scale(1 1.025)" font-size="12.4" text-anchor="end">1.0</text>
<text transform="translate(39.2 111.9) scale(1 1.025)" font-size="12.4" text-anchor="end">0.8</text>
<text transform="translate(39.2 144.05) scale(1 1.025)" font-size="12.4" text-anchor="end">0.6</text>
<text transform="translate(39.2 176.2) scale(1 1.025)" font-size="12.4" text-anchor="end">0.4</text>
<text transform="translate(39.2 208.35) scale(1 1.025)" font-size="12.4" text-anchor="end">0.2</text>
<text transform="translate(39.2 240.5) scale(1 1.025)" font-size="12.4" text-anchor="end">0.0</text>
<text transform="translate(39.2 272.85) scale(1 1.025)" font-size="12.4" text-anchor="end">-0.2</text>
<text transform="translate(36.6 286) scale(1 1.025)" font-size="12.3">10<tspan font-size="9.6" dx="-0.3" dy="-4.2">0</tspan></text>
<text transform="translate(92.3 286) scale(1 1.025)" font-size="12.3">10<tspan font-size="9.6" dx="-0.3" dy="-4.2">1</tspan></text>
<text transform="translate(148 286) scale(1 1.025)" font-size="12.3">10<tspan font-size="9.6" dx="-0.3" dy="-4.2">2</tspan></text>
<text transform="translate(203.7 286) scale(1 1.025)" font-size="12.3">10<tspan font-size="9.6" dx="-0.3" dy="-4.2">3</tspan></text>
<text transform="translate(259.4 286) scale(1 1.025)" font-size="12.3">10<tspan font-size="9.6" dx="-0.3" dy="-4.2">4</tspan></text>
<text transform="translate(315.1 286) scale(1 1.025)" font-size="12.3">10<tspan font-size="9.6" dx="-0.3" dy="-4.2">5</tspan></text>
<text transform="translate(189.15 303.9) scale(1 1.025)" font-size="14.25" text-anchor="middle">Rac1 (nM)</text>
<text transform="translate(11.6 155.1) rotate(-90) scale(1 1.025)" font-size="14.3" text-anchor="middle">Fraction bound</text>
<text class="big" transform="translate(25 19.8) scale(1 1.025)" font-size="26.7">A</text>
<text transform="translate(95.3 84.1) scale(1 1.025)" font-size="12">TcdA<tspan font-size="9" dx="1.2" dy="-5.8">1-1874</tspan></text>
<text transform="translate(384.7 47.5) scale(1 1.025)" font-size="12.4" text-anchor="end">1.2</text>
<text transform="translate(384.7 79.75) scale(1 1.025)" font-size="12.4" text-anchor="end">1.0</text>
<text transform="translate(384.7 111.9) scale(1 1.025)" font-size="12.4" text-anchor="end">0.8</text>
<text transform="translate(384.7 144.05) scale(1 1.025)" font-size="12.4" text-anchor="end">0.6</text>
<text transform="translate(384.7 176.2) scale(1 1.025)" font-size="12.4" text-anchor="end">0.4</text>
<text transform="translate(384.7 208.35) scale(1 1.025)" font-size="12.4" text-anchor="end">0.2</text>
<text transform="translate(384.7 240.5) scale(1 1.025)" font-size="12.4" text-anchor="end">0.0</text>
<text transform="translate(382.1 286) scale(1 1.025)" font-size="12.3">10<tspan font-size="9.6" dx="-0.3" dy="-4.2">1</tspan></text>
<text transform="translate(462.1 286) scale(1 1.025)" font-size="12.3">10<tspan font-size="9.6" dx="-0.3" dy="-4.2">2</tspan></text>
<text transform="translate(542.1 286) scale(1 1.025)" font-size="12.3">10<tspan font-size="9.6" dx="-0.3" dy="-4.2">3</tspan></text>
<text transform="translate(622.1 286) scale(1 1.025)" font-size="12.3">10<tspan font-size="9.6" dx="-0.3" dy="-4.2">4</tspan></text>
<text transform="translate(534.75 303.9) scale(1 1.025)" font-size="14.25" text-anchor="middle">TcdA CROPs (nM)</text>
<text transform="translate(357.1 155.1) rotate(-90) scale(1 1.025)" font-size="14.3" text-anchor="middle">Fraction bound</text>
<text class="big" transform="translate(369.3 19.8) scale(1 1.025)" font-size="26.7">B</text>
<text transform="translate(429.8 68.5) scale(1 1.025)" font-size="12">mock</text>
<text transform="translate(430.4 90.5) scale(1 1.025)" font-size="12">TcdA<tspan font-size="9" dx="1.2" dy="-5.8">1-542</tspan></text>
<text transform="translate(430.4 110.2) scale(1 1.025)" font-size="12">TcdA<tspan font-size="9" dx="1.2" dy="-5.8">1102-1847</tspan></text>
<text transform="translate(430.4 129.7) scale(1 1.025)" font-size="12">TcdA<tspan font-size="9" dx="1.2" dy="-5.8">1-1874</tspan></text>
<text transform="translate(729 47.5) scale(1 1.025)" font-size="12.4" text-anchor="end">1.2</text>
<text transform="translate(729 79.75) scale(1 1.025)" font-size="12.4" text-anchor="end">1.0</text>
<text transform="translate(729 111.9) scale(1 1.025)" font-size="12.4" text-anchor="end">0.8</text>
<text transform="translate(729 144.05) scale(1 1.025)" font-size="12.4" text-anchor="end">0.6</text>
<text transform="translate(729 176.2) scale(1 1.025)" font-size="12.4" text-anchor="end">0.4</text>
<text transform="translate(729 208.35) scale(1 1.025)" font-size="12.4" text-anchor="end">0.2</text>
<text transform="translate(729 240.5) scale(1 1.025)" font-size="12.4" text-anchor="end">0.0</text>
<text transform="translate(729 272.85) scale(1 1.025)" font-size="12.4" text-anchor="end">-0.2</text>
<text transform="translate(726.4 286) scale(1 1.025)" font-size="12.3">10<tspan font-size="9.6" dx="-0.3" dy="-4.2">0</tspan></text>
<text transform="translate(790.8 286) scale(1 1.025)" font-size="12.3">10<tspan font-size="9.6" dx="-0.3" dy="-4.2">1</tspan></text>
<text transform="translate(855.2 286) scale(1 1.025)" font-size="12.3">10<tspan font-size="9.6" dx="-0.3" dy="-4.2">2</tspan></text>
<text transform="translate(919.6 286) scale(1 1.025)" font-size="12.3">10<tspan font-size="9.6" dx="-0.3" dy="-4.2">3</tspan></text>
<text transform="translate(984 286) scale(1 1.025)" font-size="12.3">10<tspan font-size="9.6" dx="-0.3" dy="-4.2">4</tspan></text>
<text transform="translate(879.05 303.9) scale(1 1.025)" font-size="14.25" text-anchor="middle">TcdB CROPs (nM)</text>
<text transform="translate(701.4 155.1) rotate(-90) scale(1 1.025)" font-size="14.3" text-anchor="middle">Fraction bound</text>
<text class="big" transform="translate(711 19.8) scale(1 1.025)" font-size="26.7">C</text>
<text transform="translate(784.8 82.3) scale(1 1.025)" font-size="12">TcdA<tspan font-size="9" dx="1.2" dy="-5.8">1-1874</tspan></text>
<text transform="translate(784.8 100.5) scale(1 1.025)" font-size="12">TcdA<tspan font-size="9" dx="1.2" dy="-5.8">1-542</tspan></text>
</g>
</svg>
</body>
</html>
